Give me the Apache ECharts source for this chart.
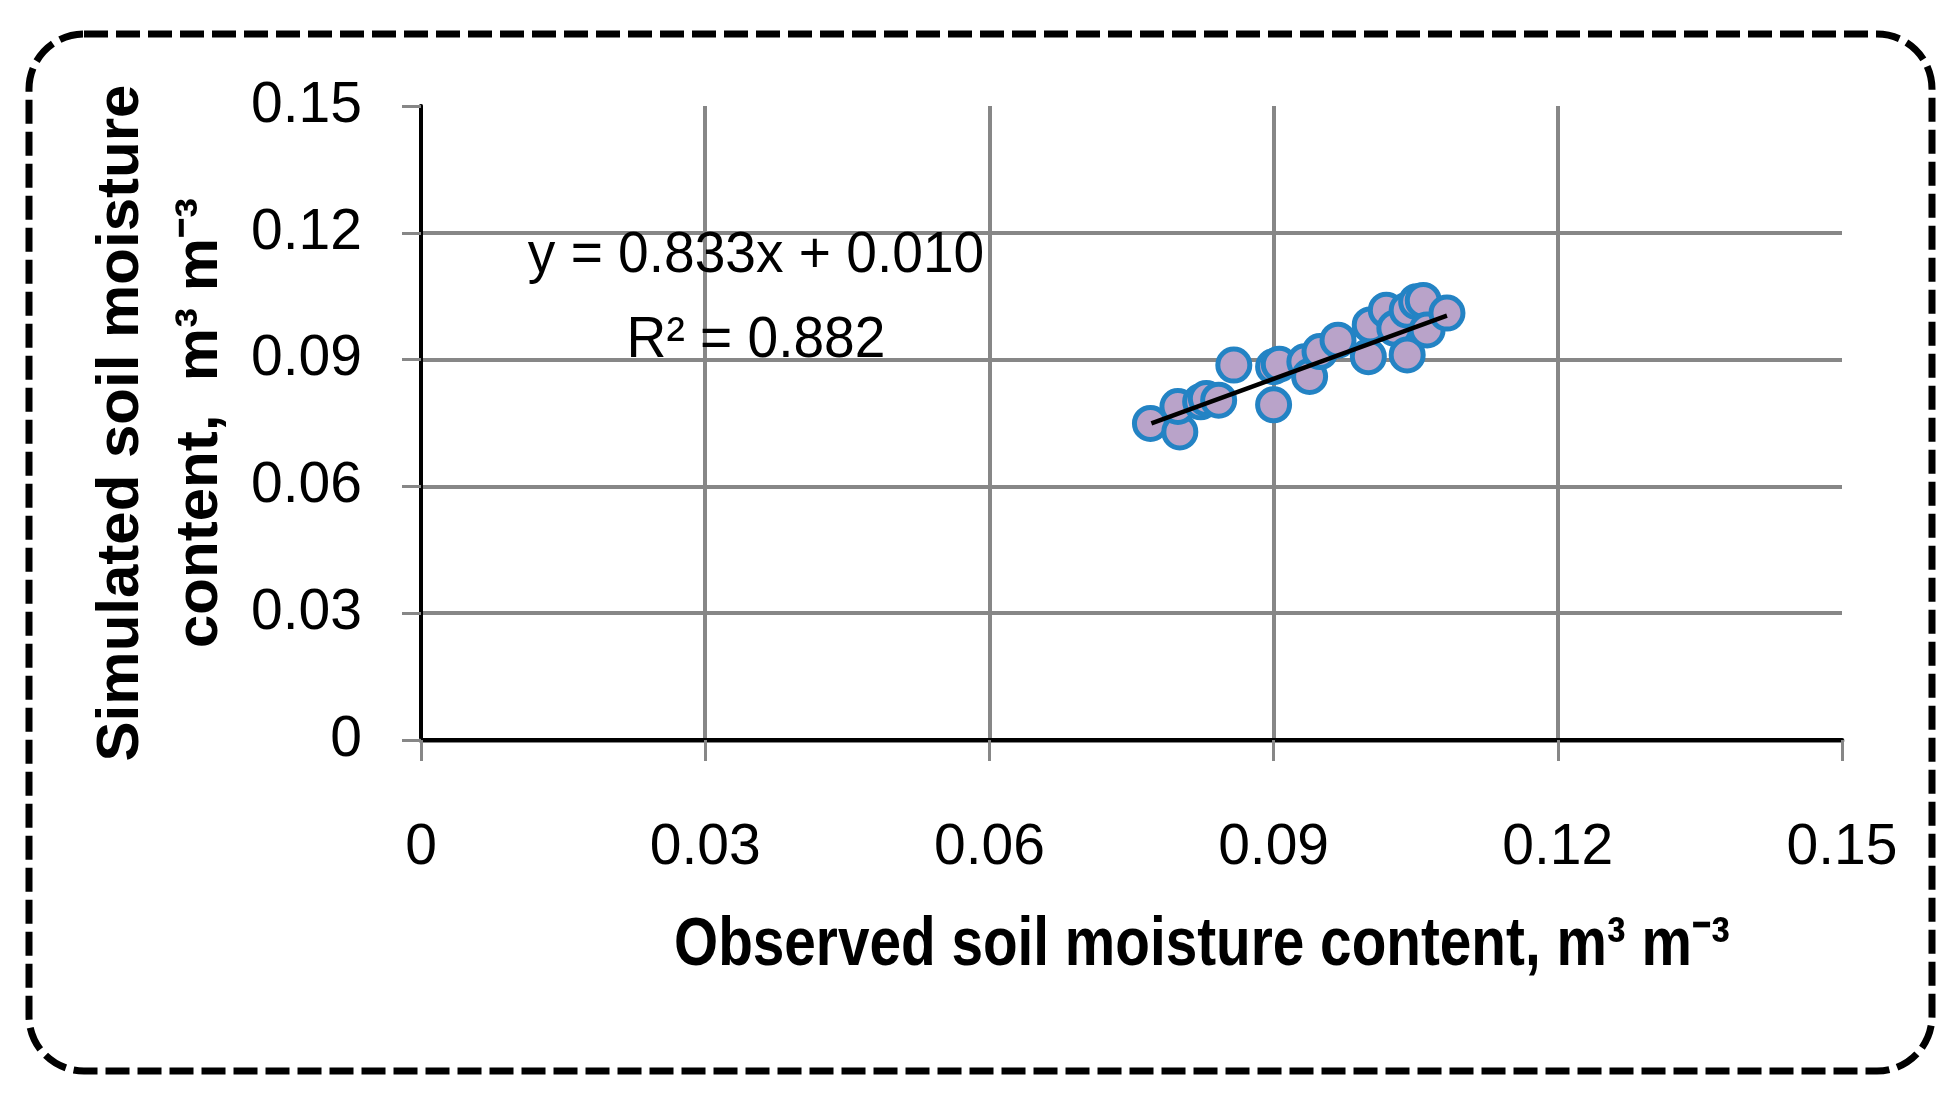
<!DOCTYPE html>
<html>
<head>
<meta charset="utf-8">
<script src="https://cdn.jsdelivr.net/npm/echarts@6/dist/echarts.min.js"></script>
<style>
html,body{margin:0;padding:0;background:#fff;}
#chart{width:1956px;height:1105px;}
</style>
</head>
<body>
<div id="chart"></div>
<script>
// Observed vs simulated soil moisture (m3 m-3)
var observed = [0.0770, 0.0801, 0.0799, 0.0823, 0.0829, 0.0842, 0.0858, 0.0900, 0.0900, 0.0906,
                0.0933, 0.0938, 0.0949, 0.0968, 0.1000, 0.1002, 0.1019, 0.1028, 0.1041, 0.1051,
                0.1058, 0.1041, 0.1062, 0.1083];
var simulated = [0.0749, 0.0729, 0.0789, 0.0800, 0.0808, 0.0804, 0.0887, 0.0793, 0.0883, 0.0889,
                 0.0895, 0.0860, 0.0919, 0.0946, 0.0907, 0.0982, 0.1017, 0.0974, 0.1017, 0.1037,
                 0.1040, 0.0911, 0.0970, 0.1010];
// Trendline end points
var trendX = [0.0771, 0.1083];
var trendY = [0.0749, 0.1004];
var axisTicks = ['0', '0.03', '0.06', '0.09', '0.12', '0.15'];
var equationText = 'y = 0.833x + 0.010';
var r2Text = 'R\u00B2 = 0.882';
var xTitle = 'Observed soil moisture content, m\u00B3 m\u207B\u00B3';
var yTitle = 'Simulated soil moisture\ncontent,  m\u00B3 m\u207B\u00B3';

var points = observed.map(function (x, i) { return [x, simulated[i]]; });
var trend = trendX.map(function (x, i) { return [x, trendY[i]]; });

function fmt(v) {
  var idx = Math.round(v / 0.03);
  return axisTicks[idx] !== undefined ? axisTicks[idx] : String(v);
}

var sans = '"Liberation Sans", Arial, sans-serif';
var gray = '#878787';

var chart = echarts.init(document.getElementById('chart'), null, {renderer: 'canvas'});
chart.setOption({
  backgroundColor: '#ffffff',
  animation: false,
  grid: {left: 421, right: 114, top: 106, bottom: 365, containLabel: false},
  xAxis: [{
    type: 'value', min: 0, max: 0.15, interval: 0.03,
    axisLine: {show: true, onZero: false, lineStyle: {color: gray, width: 5}},
    axisTick: {show: true, inside: false, length: 21, lineStyle: {color: gray, width: 3}},
    axisLabel: {margin: 80, formatter: fmt, fontFamily: sans, fontSize: 57, color: '#000'},
    splitLine: {show: true, showMinLine: false, showMaxLine: false, lineStyle: {color: gray, width: 4}}
  }, {
    type: 'value', position: 'top', min: 0, max: 0.15,
    axisLine: {show: true, lineStyle: {color: '#000', width: 4}},
    axisTick: {show: false}, axisLabel: {show: false}, splitLine: {show: false}
  }],
  yAxis: [{
    type: 'value', min: 0, max: 0.15, interval: 0.03,
    axisLine: {show: true, onZero: false, lineStyle: {color: gray, width: 4}},
    axisTick: {show: true, inside: false, length: 19, lineStyle: {color: gray, width: 3}},
    axisLabel: {margin: 59, formatter: fmt, fontFamily: sans, fontSize: 57, color: '#000'},
    splitLine: {show: true, showMinLine: false, showMaxLine: false, lineStyle: {color: gray, width: 4}},
    name: yTitle, nameLocation: 'middle', nameRotate: 90, nameGap: 167,
    nameTextStyle: {fontFamily: sans, fontWeight: 'bold', fontSize: 60, lineHeight: 79, color: '#000'}
  }, {
    type: 'value', position: 'right', min: 0, max: 0.15,
    axisLine: {show: true, lineStyle: {color: '#000', width: 4}},
    axisTick: {show: false}, axisLabel: {show: false}, splitLine: {show: false}
  }],
  series: [{
    type: 'scatter',
    data: points,
    symbol: 'circle',
    symbolSize: 32,
    itemStyle: {color: '#b9a3c9', borderColor: '#2383c4', borderWidth: 5, opacity: 1},
    z: 3
  }, {
    type: 'line',
    data: trend,
    showSymbol: false,
    symbol: 'none',
    lineStyle: {color: '#000', width: 4.5},
    z: 4
  }],
  graphic: [{
    type: 'rect',
    shape: {x: 29, y: 34, width: 1903, height: 1037, r: 55},
    style: {fill: 'none', stroke: '#000', lineWidth: 7, lineDash: [24, 8]},
    silent: true, z: 10
  }, {
    type: 'text', x: 756, y: 256, scaleX: 0.95,
    style: {text: equationText, fontFamily: sans, fontSize: 58, fill: '#000', align: 'center', verticalAlign: 'middle'},
    z: 10
  }, {
    type: 'text', x: 756, y: 341, scaleX: 0.95,
    style: {text: r2Text, fontFamily: sans, fontSize: 58, fill: '#000', align: 'center', verticalAlign: 'middle'},
    z: 10
  }, {
    type: 'text', x: 1202, y: 946, scaleX: 0.834,
    style: {text: xTitle, fontFamily: sans, fontWeight: 'bold', fontSize: 68, fill: '#000', align: 'center', verticalAlign: 'middle'},
    z: 10
  }]
});
</script>
</body>
</html>
